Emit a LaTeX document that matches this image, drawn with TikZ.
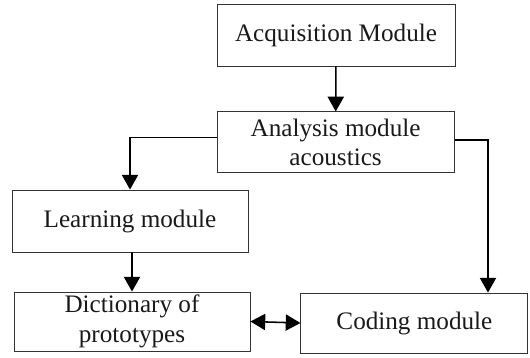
\documentclass[tikz,border=0pt]{standalone}
\usepackage{fontspec}
\setmainfont{Liberation Serif}
\usetikzlibrary{arrows.meta}

\begin{document}
\begin{tikzpicture}[
		module/.style={draw=black!80, line width=0.6pt, inner sep=0pt, align=center,
			font=\fontsize{17.9}{21}\selectfont, text=black!90},
		flow/.style={line width=1.1pt, -{Triangle[length=10.5pt,width=11.5pt]}},
		both/.style={line width=1.1pt, {Triangle[length=10.5pt,width=11.5pt]}-{Triangle[length=10.5pt,width=11.5pt]}}
	]
	\useasboundingbox (0,0) rectangle (13.25,8.95);
	
	\node[module, minimum width=5.95cm, minimum height=1.55cm] (acq) at (8.4,8.075) {Acquisition Module};
	\node[module, minimum width=5.925cm, minimum height=1.525cm] (ana) at (8.39,5.39) {Analysis module\\acoustics};
	\node[module, minimum width=5.9cm, minimum height=1.55cm] (lrn) at (3.25,3.425) {Learning module};
	\node[module, minimum width=5.9cm, minimum height=1.475cm] (dic) at (3.3,0.9125) {Dictionary of\\prototypes};
	\node[module, minimum width=5.675cm, minimum height=1.5cm] (cod) at (10.36,0.875) {Coding module};
	
	\draw[flow] (acq) -- (ana);
	\draw[flow] ([yshift=0.12cm]ana.west) -| (lrn.north);
	\draw[flow] ([yshift=0.06cm]ana.east) -| ([xshift=1.84cm]cod.north);
	\draw[flow] ([xshift=0.05cm]lrn.south) -- ([xshift=0cm]dic.north);
	\draw[both] (dic.east) -- (cod.west);
\end{tikzpicture}
\end{document}
